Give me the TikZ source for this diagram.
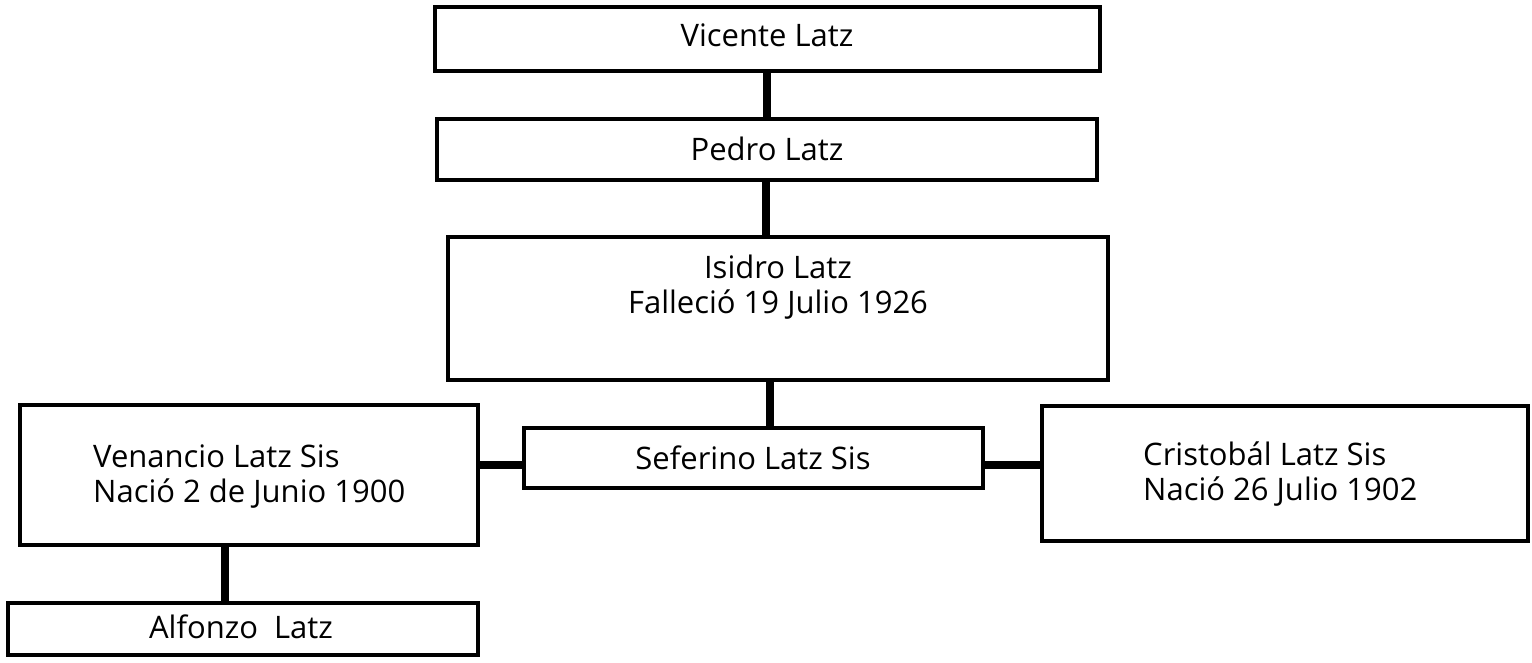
\documentclass[tikz,border=0pt]{standalone}
\usepackage{fontspec}
\setmainfont{Open Sans}
\usetikzlibrary{positioning}

\begin{document}
\begin{tikzpicture}[x=1pt,y=-1pt,
  box/.style={draw, line width=4pt, rectangle, inner sep=0pt},
  link/.style={line width=8pt},
  persontext/.style={font=\fontsize{31}{35}\selectfont, align=left, inner sep=0pt}]
\useasboundingbox (0,0) rectangle (1532,662);
% upper line:
\node[box, minimum width=665pt, minimum height=64pt] (vic) at (767.5,39) {};
\node[persontext] (vicname) at (767,35) {Vicente Latz};
\node[box, minimum width=660pt, minimum height=61pt] (ped) at (767,149.5) {};
\node[persontext] (pedname) at (767,149) {Pedro Latz};
\node[box, minimum width=660pt, minimum height=143pt] (isi) at (778,308.5) {};
\node[persontext, align=center] (isiname) at (778,287) {Isidro Latz\\Falleció 19 Julio 1926};
% children:
\node[box, minimum width=459pt, minimum height=60pt] (sef) at (753.5,458) {};
\node[persontext] (sefname) at (753,458) {Seferino Latz Sis};
\node[box, minimum width=458pt, minimum height=140pt] (ven) at (249,475) {};
\node[persontext, anchor=west] (venname) at (93,477) {Venancio Latz Sis\\Nació 2 de Junio 1900};
\node[box, minimum width=486pt, minimum height=135pt] (cri) at (1285,473) {};
\node[persontext, anchor=west] (criname) at (1143,474) {Cristobál Latz Sis\\Nació 26 Julio 1902};
\node[box, minimum width=470pt, minimum height=52pt] (alf) at (243,629) {};
\node[persontext] (alfname) at (241,627) {Alfonzo\ \ Latz};
% connectors:
\draw[link] ([xshift=-1pt]vic.south) -- ([xshift=-1pt]vic.south |- ped.north);
\draw[link] ([xshift=-1pt]ped.south) -- ([xshift=-1pt]ped.south |- isi.north);
\draw[link] ([xshift=-8pt]isi.south) -- ([xshift=-8pt]isi.south |- sef.north);
\draw[link] ([yshift=-7pt]sef.west) -- ([yshift=-7pt]sef.west -| ven.east);
\draw[link] ([yshift=-7pt]sef.east) -- ([yshift=-7pt]sef.east -| cri.west);
\draw[link] ([xshift=-24pt]ven.south) -- ([xshift=-24pt]ven.south |- alf.north);
\end{tikzpicture}
\end{document}
